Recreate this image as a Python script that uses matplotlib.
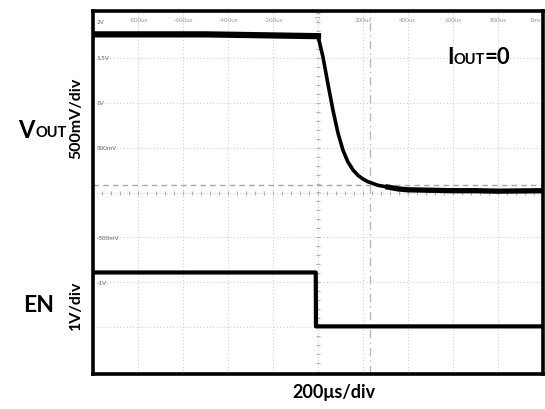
import numpy as np
import matplotlib.pyplot as plt

plt.rcParams['font.family'] = ['Lato', 'DejaVu Sans']

# VOUT trace (time in us, volts)
t_vout = [-1000, -500, 0, 22, 44, 67, 89, 111, 133, 156, 178, 200, 222, 267, 311, 356, 400, 500, 600, 700, 800, 1000]
vout = [1.76, 1.76, 1.74, 1.51, 1.21, 0.91, 0.66, 0.47, 0.34, 0.25, 0.19, 0.15, 0.12, 0.08, 0.06, 0.04, 0.03, 0.025, 0.02, 0.02, 0.015, 0.02]

# EN trace (time in us, volts, 1V/div)
t_en = [-1000, -10, -9, 1000]
en = [1.2, 1.2, 0.0, 0.0]
en_zero = -1.49  # where EN 0V sits on the VOUT scale

time_labels = ['-800us', '-600us', '-400us', '-200us', '', '200us', '400us', '600us', '800us']
time_ticks = [-800, -600, -400, -200, 0, 200, 400, 600, 800]
volt_labels = ['2V', '1.5V', '1V', '500mV', '-500mV', '-1V']
volt_ticks = [2.0, 1.5, 1.0, 0.5, -0.5, -1.0]

fig = plt.figure(figsize=(5.45, 4.1), dpi=100)
ax = fig.add_axes([93/545, 1-375/410, 450/545, 363/410])
ax.set_xlim(-1000, 1000)
ax.set_ylim(-2.02, 2.02)

# scope grid
for x in np.arange(-800, 1000, 200):
    ax.axvline(x, color='#d0d0d0', lw=0.8, ls=(0, (1, 2)), zorder=0)
for y in np.arange(-1.5, 2.0, 0.5):
    ax.axhline(y, color='#d0d0d0', lw=0.8, ls=(0, (1, 2)), zorder=0)
# centre axis tick marks
ax.plot(np.arange(-1000, 1001, 40), np.zeros(51), ls='none', marker='|', ms=3, color='#b0b0b0', mew=0.8)
ax.plot(np.zeros(41), np.arange(-2, 2.01, 0.1), ls='none', marker='_', ms=3, color='#b0b0b0', mew=0.8)
# cursors
ax.axhline(0.078, color='#a8a8a8', lw=1, ls=(0, (4, 3)), zorder=1)
ax.axvline(231, color='#b8b8b8', lw=1, ls=(0, (6, 3, 1, 3)), zorder=1)

# traces
ax.plot(t_vout, vout, color='black', lw=2.6, zorder=3)
ax.plot(t_vout[:3], vout[:3], color='black', lw=4.5, zorder=3)
ax.plot(t_vout[14:], vout[14:], color='black', lw=3.8, zorder=3)
ax.plot(t_en, en_zero + np.array(en) * 0.5, color='black', lw=3, zorder=3)

# faint scope labels
for tk, lb in zip(time_ticks, time_labels):
    ax.text(tk, 1.93, lb, fontsize=4.5, color='#999999', ha='center', va='center')
ax.text(992, 1.93, '1ms', fontsize=4.5, color='#999999', ha='right', va='center')
ax.text(0, 1.93, '\u25bd', fontsize=5, color='#999999', ha='center', va='center', family='DejaVu Sans')
for vt, lb in zip(volt_ticks, volt_labels):
    ax.text(-985, vt - (0.1 if vt == 2.0 else 0), lb, fontsize=4.5, color='#666666', ha='left', va='center')

ax.set_xticks([])
ax.set_yticks([])
for s in ax.spines.values():
    s.set_linewidth(2.6)

# annotations
fig.text(18/545, 1-131/410, 'V', fontsize=17, fontweight='bold', ha='left', va='center')
fig.text(35/545, 1-133/410, 'OUT', fontsize=10.5, fontweight='bold', ha='left', va='center')
fig.text(76/545, 1-118/410, '500mV/div', fontsize=11.5, fontweight='bold', rotation=90, ha='center', va='center')
fig.text(23/545, 1-306/410, 'EN', fontsize=16.5, fontweight='bold', ha='left', va='center')
fig.text(76/545, 1-305/410, '1V/div', fontsize=11.5, fontweight='bold', rotation=90, ha='center', va='center')
fig.text(334/545, 1-393/410, '200\u03bcs/div', fontsize=13, fontweight='bold', ha='center', va='center')
fig.text(447/545, 1-58/410, 'I', fontsize=16, fontweight='bold', ha='left', va='center')
fig.text(454/545, 1-60/410, 'OUT', fontsize=10.5, fontweight='bold', ha='left', va='center')
fig.text(485/545, 1-58/410, '=0', fontsize=16, fontweight='bold', ha='left', va='center')

fig.savefig('out.png', dpi=100)
